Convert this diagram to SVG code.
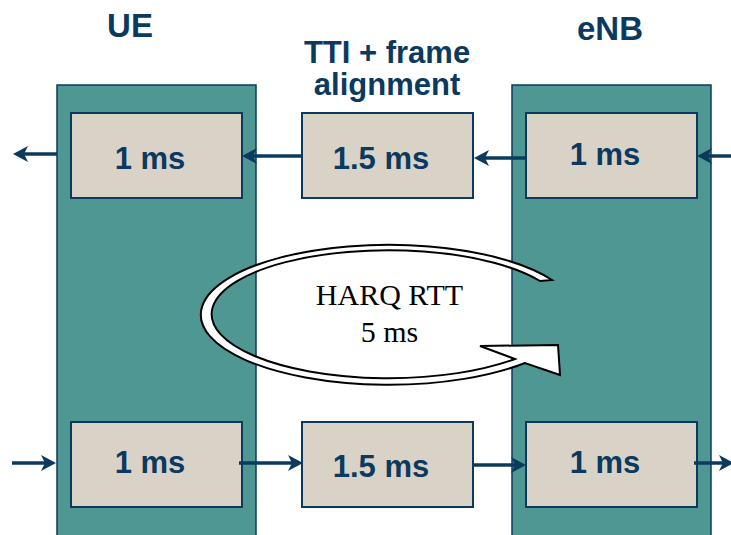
<svg xmlns="http://www.w3.org/2000/svg" width="731" height="535" viewBox="0 0 731 535">
<style>
.col{fill:#4F9793;stroke:#0C3A5E;stroke-width:1.5}
.box{fill:#D9D2C6;stroke:#0C3A5E;stroke-width:2}
.lbl{font-family:"Liberation Sans",Arial,sans-serif;font-weight:bold;font-size:31px;fill:#0B3A5E;text-anchor:middle}
.ttl{font-family:"Liberation Sans",Arial,sans-serif;font-weight:bold;font-size:33px;fill:#0B3A5E;text-anchor:middle}
.con{stroke:#0B3A5E;stroke-width:3.5;fill:none;marker-end:url(#ah)}
.harq{font-family:"Liberation Serif","Times New Roman",serif;font-size:30px;fill:#000;text-anchor:middle}
</style>
<defs>
<marker id="ah" markerUnits="userSpaceOnUse" viewBox="-16 -9 18 18" refX="-6" refY="0" markerWidth="18" markerHeight="18" orient="auto">
<path d="M0,0 L-15,-8 L-11,0 L-15,8 Z" fill="#0B3A5E"/>
</marker>
</defs>
<rect width="731" height="535" fill="#fff"/>
<g id="ue-column">
<rect class="col" x="57" y="85" width="199" height="470"/>
<text class="ttl" x="130" y="37">UE</text>
</g>
<g id="enb-column">
<rect class="col" x="512" y="85" width="199" height="470"/>
<text class="ttl" x="610" y="40">eNB</text>
</g>
<g id="tti-label">
<text class="ttl" style="font-size:31px" x="387" y="63">TTI + frame</text>
<text class="ttl" style="font-size:31px" x="387" y="95">alignment</text>
</g>
<g id="ue-top"><rect class="box" x="71" y="113" width="171" height="85"/><text class="lbl" x="150" y="169">1 ms</text></g>
<g id="mid-top"><rect class="box" x="302" y="113" width="171" height="85"/><text class="lbl" x="381" y="169">1.5 ms</text></g>
<g id="enb-top"><rect class="box" x="526" y="113" width="171" height="85"/><text class="lbl" x="605" y="165">1 ms</text></g>
<g id="ue-bottom"><rect class="box" x="71" y="422" width="171" height="85"/><text class="lbl" x="150" y="473">1 ms</text></g>
<g id="mid-bottom"><rect class="box" x="302" y="422" width="171" height="85"/><text class="lbl" x="381" y="477">1.5 ms</text></g>
<g id="enb-bottom"><rect class="box" x="526" y="422" width="171" height="85"/><text class="lbl" x="605" y="473">1 ms</text></g>
<g id="connectors">
<line class="con" x1="57" y1="154" x2="19" y2="154"/>
<line class="con" x1="302" y1="156" x2="248" y2="156"/>
<line class="con" x1="526" y1="158" x2="480" y2="158"/>
<line class="con" x1="735" y1="156" x2="703" y2="156"/>
<line class="con" x1="12" y1="463" x2="50" y2="463"/>
<line class="con" x1="239" y1="463" x2="297" y2="463"/>
<line class="con" x1="473" y1="465" x2="520" y2="465"/>
<line class="con" x1="694" y1="463" x2="728" y2="463"/>
</g>
<g id="harq-rtt">
<path d="M552,280 A188 70 0 1 0 525,363 L560,375 L558,345 L480,346 L515,359 A177 64 0 1 1 540,281 Z" fill="#fff" stroke="#000" stroke-width="2" stroke-linejoin="miter"/>
<text class="harq" x="389.5" y="305">HARQ RTT</text>
<text class="harq" x="389.5" y="342">5 ms</text>
</g>
</svg>
